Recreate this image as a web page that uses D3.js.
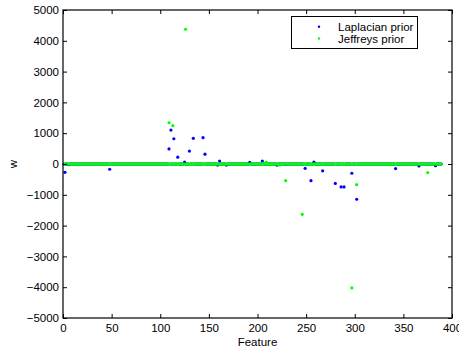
<!DOCTYPE html>
<html>
<head>
<meta charset="utf-8">
<script src="https://cdn.jsdelivr.net/npm/d3@7"></script>
<style>
  html, body { margin: 0; padding: 0; background: #fff; }
  svg { display: block; }
  text { font-family: "Liberation Sans", Arial, Helvetica, sans-serif; }
</style>
</head>
<body>
<svg id="chart" width="459" height="349"></svg>
<script>
// ---- Data ----
const nFeatures = 389;               // features 1..389, all others sit at w = 0
const xTicks = [0, 50, 100, 150, 200, 250, 300, 350, 400];
const yTicks = [-5000, -4000, -3000, -2000, -1000, 0, 1000, 2000, 3000, 4000, 5000];
const seriesNames = ["Laplacian prior", "Jeffreys prior"];
const seriesColors = ["#0000ff", "#00ff00"];

// [feature, w] for features whose weight is visibly away from zero
const laplacianNonzero = [
  [2, -270], [6, -25], [48, -170], [109, 490], [111, 1100], [114, 820],
  [118, 220], [125, 65], [130, 420], [134, 835], [144, 855], [146, 320],
  [159, -35], [161, 95], [168, -35], [192, 50], [205, 95], [220, -35],
  [249, -140], [255, -540], [258, 60], [267, -220], [280, -630], [286, -745],
  [289, -745], [297, -300], [302, -1145], [342, -150], [366, -65], [383, -55]
];
const jeffreysNonzero = [
  [109, 1340], [113, 1245], [126, 4375], [209, 65], [223, -35], [229, -540],
  [246, -1635], [297, -4025], [302, -670], [375, -280]
];

// ---- Build full series ----
const features = d3.range(1, nFeatures + 1);
function buildSeries(nonzero) {
  const m = new Map(nonzero);
  return features.map(f => ({ f, w: m.has(f) ? m.get(f) : 0 }));
}
const laplacian = buildSeries(laplacianNonzero);
const jeffreys = buildSeries(jeffreysNonzero);

// ---- Layout ----
const svg = d3.select("#chart");
const L = 63, R = 452, T = 10, B = 318;
const x = d3.scaleLinear().domain([0, 400]).range([L, R]);
const y = d3.scaleLinear().domain([-5000, 5000]).range([B, T]);
const fontSize = 11.5;

// Points: blue first, green on top
const r = 1.6;
svg.append("g").selectAll("circle").data(laplacian).join("circle")
  .attr("cx", d => x(d.f)).attr("cy", d => y(d.w)).attr("r", r)
  .attr("fill", seriesColors[0]);
svg.append("g").selectAll("circle").data(jeffreys).join("circle")
  .attr("cx", d => x(d.f)).attr("cy", d => y(d.w)).attr("r", r)
  .attr("fill", seriesColors[1]);

// Axes (ticks inside)
const fmt = d => d3.format("")(d).replace("-", "\u2212");
const gx = svg.append("g").attr("transform", `translate(0,${B})`)
  .call(d3.axisBottom(x).tickValues(xTicks).tickSize(-4).tickPadding(5.5).tickFormat(fmt));
const gxt = svg.append("g").attr("transform", `translate(0,${T})`)
  .call(d3.axisTop(x).tickValues(xTicks).tickSize(-4).tickFormat(""));
const gy = svg.append("g").attr("transform", `translate(${L},0)`)
  .call(d3.axisLeft(y).tickValues(yTicks).tickSize(-4).tickPadding(4).tickFormat(fmt));
const gyr = svg.append("g").attr("transform", `translate(${R},0)`)
  .call(d3.axisRight(y).tickValues(yTicks).tickSize(-4).tickFormat(""));

[gx, gxt, gy, gyr].forEach(g => {
  g.select(".domain").remove();
  g.selectAll(".tick line").attr("stroke", "#000").attr("stroke-width", 1);
  g.selectAll("text").attr("fill", "#000")
    .style("font-size", fontSize + "px")
    .style("font-family", '"Liberation Sans", Arial, Helvetica, sans-serif');
});

// Frame
svg.append("rect").attr("x", L).attr("y", T).attr("width", R - L).attr("height", B - T)
  .attr("fill", "none").attr("stroke", "#000").attr("stroke-width", 1.2);

// Axis titles
svg.append("text").attr("x", (L + R) / 2).attr("y", 345.5).attr("text-anchor", "middle")
  .style("font-size", fontSize + "px").text("Feature");
svg.append("text").attr("transform", `translate(17,${y(0)}) rotate(-90)`)
  .attr("text-anchor", "middle").style("font-size", fontSize + "px").text("w");

// Legend
const lg = svg.append("g");
lg.append("rect").attr("x", 291.5).attr("y", 16.5).attr("width", 126).attr("height", 32)
  .attr("fill", "#fff").attr("stroke", "#000").attr("stroke-width", 1);
const rowsY = [26.7, 38.5];
seriesNames.forEach((name, i) => {
  lg.append("circle").attr("cx", 319).attr("cy", rowsY[i]).attr("r", 1.2).attr("fill", seriesColors[i]);
  lg.append("text").attr("x", 338).attr("y", rowsY[i]).attr("dy", "0.35em")
    .style("font-size", fontSize + "px").text(name);
});
</script>
</body>
</html>
